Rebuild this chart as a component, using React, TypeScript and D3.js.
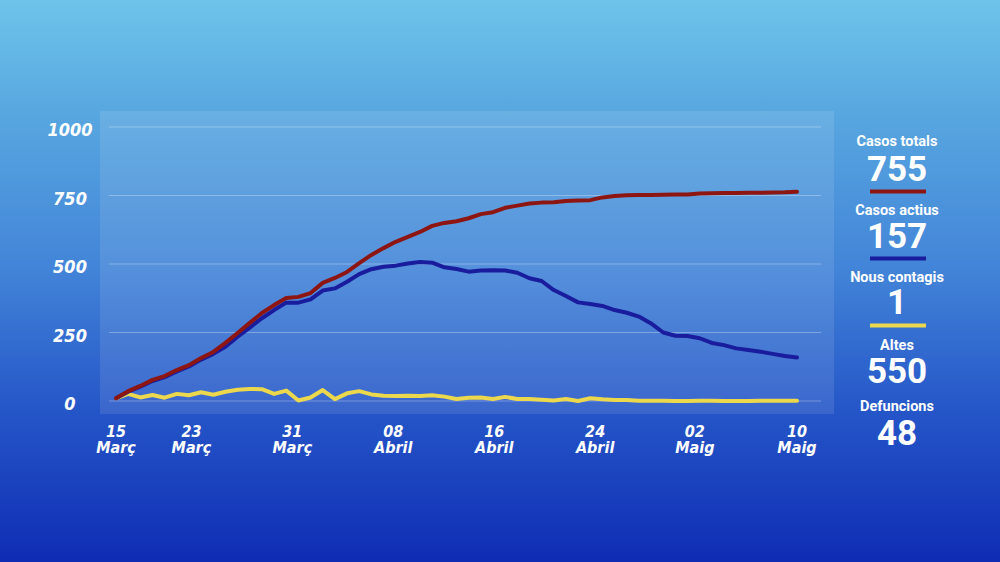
import React from "react";
import * as d3 from "d3";

// Casos totals, actius i nous contagis per dia (15 Març -> 10 Maig)
const casosTotals = [
  10, 36, 55, 77, 91, 113, 131, 157, 179, 212,
  248, 285, 321, 350, 376, 380, 394, 431, 449, 471,
  503, 533, 558, 581, 599, 617, 639, 650, 656, 667,
  682, 689, 705, 713, 721, 724, 725, 730, 732, 733,
  743, 748, 751, 752, 752, 753, 754, 754, 757, 758,
  759, 759, 760, 760, 761, 762, 764,
];
const casosActius = [
  10, 34, 52, 73, 87, 108, 126, 151, 172, 198,
  235, 268, 302, 332, 359, 359, 371, 403, 411, 435,
  463, 481, 490, 494, 502, 507, 505, 488, 482, 472,
  476, 477, 476, 468, 448, 438, 405, 383, 360, 354,
  347, 332, 322, 308, 283, 250, 238, 237, 229, 212,
  204, 192, 186, 180, 172, 164, 159,
];
const nousContagis = [
  10, 26, 13, 22, 12, 26, 21, 32, 23, 34,
  41, 44, 43, 26, 38, 2, 13, 40, 7, 28,
  36, 24, 19, 18, 19, 18, 21, 16, 7, 12,
  13, 7, 15, 7, 7, 5, 2, 7, 0, 10,
  6, 4, 4, 1, 1, 1, 0, 0, 1, 1,
  0, 0, 0, 1, 1, 1, 1,
];

const yTicks = [0, 250, 500, 750, 1000];
const xTickDays = [0, 6.2, 14.5, 22.8, 31.1, 39.4, 47.6, 56];
const xTickDayLabels = ["15", "23", "31", "08", "16", "24", "02", "10"];
const xTickMonthLabels = ["Març", "Març", "Març", "Abril", "Abril", "Abril", "Maig", "Maig"];

const legendLabels = ["Casos totals", "Casos actius", "Nous contagis", "Altes", "Defuncions"];
const legendValues = ["755", "157", "1", "550", "48"];

const RED = "#8e1612";
const BLUE = "#1a1c9e";
const YELLOW = "#ecd84c";
const legendColors = [RED, BLUE, YELLOW, null, null];

const W = 1000;
const H = 562;
const tickFont = "'DejaVu Sans Condensed', 'DejaVu Sans', sans-serif";
const legendFont = "Roboto, 'DejaVu Sans', sans-serif";

export default function App() {
  const x = d3.scaleLinear().domain([0, 56]).range([116, 797]);
  const y = d3.scaleLinear().domain([0, 1000]).range([401, 127]);

  const line = d3
    .line<number>()
    .x((_, i) => x(i))
    .y((d) => y(d));

  const series = [
    { values: nousContagis, color: YELLOW },
    { values: casosActius, color: BLUE },
    { values: casosTotals, color: RED },
  ];

  // legend blocks: label baseline, value baseline, bar top
  const legendLabelY = [146, 215, 282, 350, 411];
  const legendValueY = [181, 248, 314, 383, 445];
  const legendBarY = [189.5, 256.5, 323.5];

  return (
    <svg
      width={W}
      height={H}
      style={{ position: "fixed", left: 0, top: 0, display: "block" }}
    >
      <defs>
        <linearGradient id="bg" x1="0" y1="0" x2="0" y2="1">
          <stop offset="0" stopColor="#6dc4ea" />
          <stop offset="0.2" stopColor="#58a7e0" />
          <stop offset="0.48" stopColor="#4284d8" />
          <stop offset="0.73" stopColor="#2556c8" />
          <stop offset="1" stopColor="#0f2cb4" />
        </linearGradient>
      </defs>
      <rect x={0} y={0} width={W} height={H} fill="url(#bg)" />

      {/* plot panel */}
      <rect x={100} y={111} width={734} height={303} fill="#ffffff" fillOpacity={0.1} />

      {/* gridlines */}
      {yTicks.map((t) => (
        <line
          key={"g" + t}
          x1={109}
          x2={821}
          y1={y(t)}
          y2={y(t)}
          stroke="#ffffff"
          strokeOpacity={0.3}
          strokeWidth={1}
        />
      ))}

      {/* y labels */}
      {yTicks.map((t) => (
        <text
          key={"yl" + t}
          x={70}
          y={y(t) + 9}
          textAnchor="middle"
          fill="#ffffff"
          fontFamily={tickFont}
          fontWeight="bold"
          fontStyle="italic"
          fontSize={18}
        >
          {t}
        </text>
      ))}

      {/* x labels */}
      {xTickDays.map((d, i) => (
        <g key={"xl" + i}>
          <text
            x={x(d)}
            y={437}
            textAnchor="middle"
            fill="#ffffff"
            fontFamily={tickFont}
            fontWeight="bold"
            fontStyle="italic"
            fontSize={16}
          >
            {xTickDayLabels[i]}
          </text>
          <text
            x={x(d)}
            y={453}
            textAnchor="middle"
            fill="#ffffff"
            fontFamily={tickFont}
            fontWeight="bold"
            fontStyle="italic"
            fontSize={16}
          >
            {xTickMonthLabels[i]}
          </text>
        </g>
      ))}

      {/* lines */}
      {series.map((s, i) => (
        <path
          key={"s" + i}
          d={line(s.values) || ""}
          fill="none"
          stroke={s.color}
          strokeWidth={4}
          strokeLinejoin="round"
          strokeLinecap="round"
        />
      ))}

      {/* legend */}
      {legendLabels.map((lab, i) => (
        <g key={"lg" + i}>
          <text
            x={897}
            y={legendLabelY[i]}
            textAnchor="middle"
            fill="#ffffff"
            fontFamily={legendFont}
            fontWeight="bold"
            fontSize={14.5}
          >
            {lab}
          </text>
          <text
            x={897}
            y={legendValueY[i]}
            textAnchor="middle"
            fill="#ffffff"
            fontFamily={legendFont}
            fontWeight="bold"
            fontSize={35}
          >
            {legendValues[i]}
          </text>
          {legendColors[i] && (
            <rect x={870} y={legendBarY[i]} width={56} height={4} fill={legendColors[i] as string} />
          )}
        </g>
      ))}
    </svg>
  );
}
